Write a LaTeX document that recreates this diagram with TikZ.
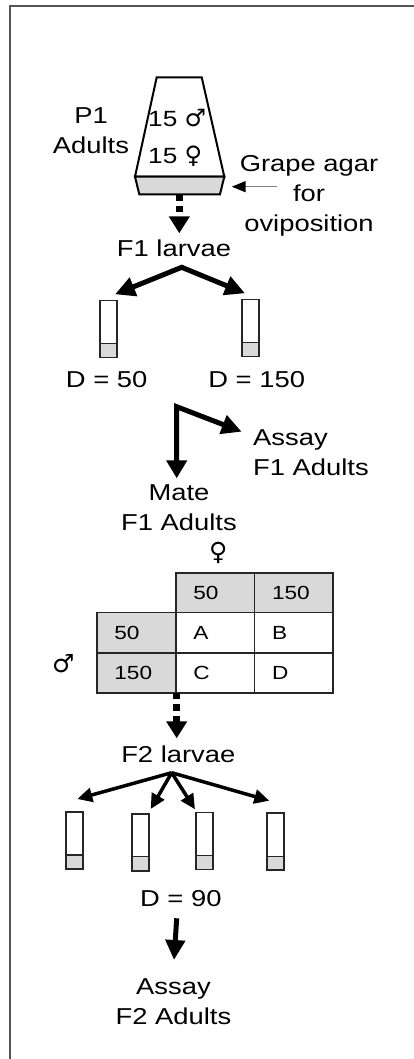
\documentclass[tikz,border=0pt]{standalone}
\usepackage{fontspec}
\setmainfont{Liberation Sans}[FakeStretch=1.19]
\newfontfamily\symfont{DejaVu Sans}
\usetikzlibrary{arrows.meta}
\definecolor{boxgray}{HTML}{D9D9D9}
\definecolor{framegray}{HTML}{555555}
\definecolor{pointergray}{HTML}{808080}
\begin{document}
\begin{tikzpicture}[x=1pt,y=-1pt,
  lbl/.style={font=\fontsize{23}{30}\selectfont, inner sep=0pt, align=center},
  celltext/.style={font=\fontsize{19}{22}\selectfont, inner sep=0pt, anchor=west},
  cuptext/.style={font=\fontsize{22}{26}\selectfont, inner sep=0pt, anchor=base west},
  symtext/.style={font=\symfont\fontsize{25}{26}\selectfont, inner sep=0pt},
  tubebox/.style={draw=black!85, line width=1.8pt, fill=white, minimum width=17pt,
    minimum height=57pt, inner sep=0pt,
    path picture={
      \fill[boxgray] ([yshift=-2pt]path picture bounding box.south west) rectangle ([yshift=14pt]path picture bounding box.south east);
      \draw[black!85, line width=1.5pt] ([yshift=14pt]path picture bounding box.south west) -- ([yshift=14pt]path picture bounding box.south east);}},
  bigarrow/.style={line width=5pt, line join=miter},
  bigtip/.style={-{Triangle[length=20pt,width=19pt]}},
  smallarrow/.style={line width=3.5pt, -{Triangle[length=15pt,width=14pt]}},
  dotarrow/.style={line width=6.5pt, dash pattern=on 6.5pt off 5pt, -{Triangle[length=17pt,width=20pt]}},
  tableline/.style={line width=1.8pt, draw=black!85},
  cupline/.style={line width=2pt, draw=black, line join=miter},
]
\useasboundingbox (0,0) rectangle (413,1059);
% frame (only top and left edges visible)
\draw[framegray, line width=2pt] (10,1060) -- (10,6) -- (414,6);

% oviposition cup
\draw[cupline, fill=white] (156.7,77.3) -- (201.7,77.3) -- (224.3,176.7) -- (135,176.7) -- cycle;
\draw[cupline, fill=boxgray] (135,176.7) -- (224.3,176.7) -- (220,194.3) -- (139.3,194.3) -- cycle;
\coordinate (cupbottom) at (179.3,194.3);
\node[cuptext] (males) at (148,126.7) {15 {\symfont\fontsize{24}{26}\selectfont ♂}};
\node[cuptext] (females) at (148,163.3) {15 {\symfont\fontsize{24}{26}\selectfont ♀}};
\node[lbl] (p1) at (91,131) {P1\\Adults};
\node[lbl] (grape) at (309,196) {Grape agar\\for\\oviposition};
\coordinate (grapetail) at (276.7,186.7);
\coordinate (grapetip) at (231.7,186.7);
\draw[pointergray, line width=1.5pt, -{Triangle[length=14pt,width=11pt,color=black]}] (grapetail) -- (grapetip);

% F1 larvae
\coordinate (f1tip) at (179.3,233.3);
\draw[dotarrow] (cupbottom) -- (f1tip);
\node[lbl] (f1larvae) at (174,248) {F1 larvae};
\coordinate (f1apex) at (181.7,267.3);
\coordinate (f1left) at (115,294.3);
\coordinate (f1right) at (245,293.3);
\draw[bigarrow, {Triangle[length=20pt,width=19pt]}-{Triangle[length=20pt,width=19pt]}] (f1left) -- (f1apex) -- (f1right);

\node[tubebox] (tubeA) at (108.3,329) {};
\node[tubebox] (tubeB) at (250.3,328) {};
\node[lbl] (d50) at (106.7,380) {D = 50};
\node[lbl] (d150) at (256.7,380) {D = 150};

% bent arrow
\coordinate (bend) at (176.7,406.7);
\coordinate (assaytip) at (241.7,431.7);
\coordinate (matetip) at (176.7,478.3);
\draw[bigarrow, {Triangle[length=20pt,width=19pt]}-{Triangle[length=18pt,width=20pt]}] (assaytip) -- (bend) -- (matetip);
\node[lbl, align=left, anchor=west] (assayf1) at (253,453) {Assay\\F1 Adults};
\node[lbl] (mate) at (179,508) {Mate\\F1 Adults};

% mating table
\node[symtext] (femsym) at (218.3,553.3) {♀};
\node[symtext] (malesym) at (63.3,663.3) {♂};
\filldraw[tableline, fill=boxgray] (175.7,572.7) rectangle (333.2,612.5);
\filldraw[tableline, fill=boxgray] (96.7,612.5) rectangle (175.7,692.7);
\draw[tableline] (175.7,612.5) rectangle (333.2,692.7);
\draw[tableline] (254.4,572.7) -- (254.4,692.7);
\draw[tableline] (96.7,652.6) -- (333.2,652.6);
\node[celltext] (c50) at (193.2,592.6) {50};
\node[celltext] (c150) at (271.9,592.6) {150};
\node[celltext] (r50) at (114.2,632.5) {50};
\node[celltext] (r150) at (114.2,672.6) {150};
\node[celltext] (cellA) at (193.2,632.5) {A};
\node[celltext] (cellB) at (271.9,632.5) {B};
\node[celltext] (cellC) at (193.2,672.6) {C};
\node[celltext] (cellD) at (271.9,672.6) {D};

% F2 larvae
\coordinate (tablebottom) at (176.7,692.7);
\coordinate (f2tip) at (176.7,738.3);
\draw[dotarrow] (tablebottom) -- (f2tip);
\node[lbl] (f2larvae) at (178.3,754) {F2 larvae};
\coordinate (f2apex) at (171.7,772.7);
\coordinate (f2a) at (77.3,799);
\coordinate (f2b) at (150.7,809);
\coordinate (f2c) at (195,809.3);
\coordinate (f2d) at (269.3,800.7);
\draw[smallarrow] (f2apex) -- (f2a);
\draw[smallarrow] (f2apex) -- (f2b);
\draw[smallarrow] (f2apex) -- (f2c);
\draw[smallarrow] (f2apex) -- (f2d);
\node[tubebox] (tube1) at (74.7,840.7) {};
\node[tubebox] (tube2) at (140.7,842.2) {};
\node[tubebox] (tube3) at (204.5,841) {};
\node[tubebox] (tube4) at (275.5,841.8) {};
\node[lbl] (d90) at (180.8,898.3) {D = 90};
\coordinate (d90out) at (176.7,918.3);
\coordinate (assay2tip) at (174,960);
\draw[bigarrow, bigtip] (d90out) -- (assay2tip);
\node[lbl] (assayf2) at (173.5,1001.3) {Assay\\F2 Adults};
\end{tikzpicture}
\end{document}
